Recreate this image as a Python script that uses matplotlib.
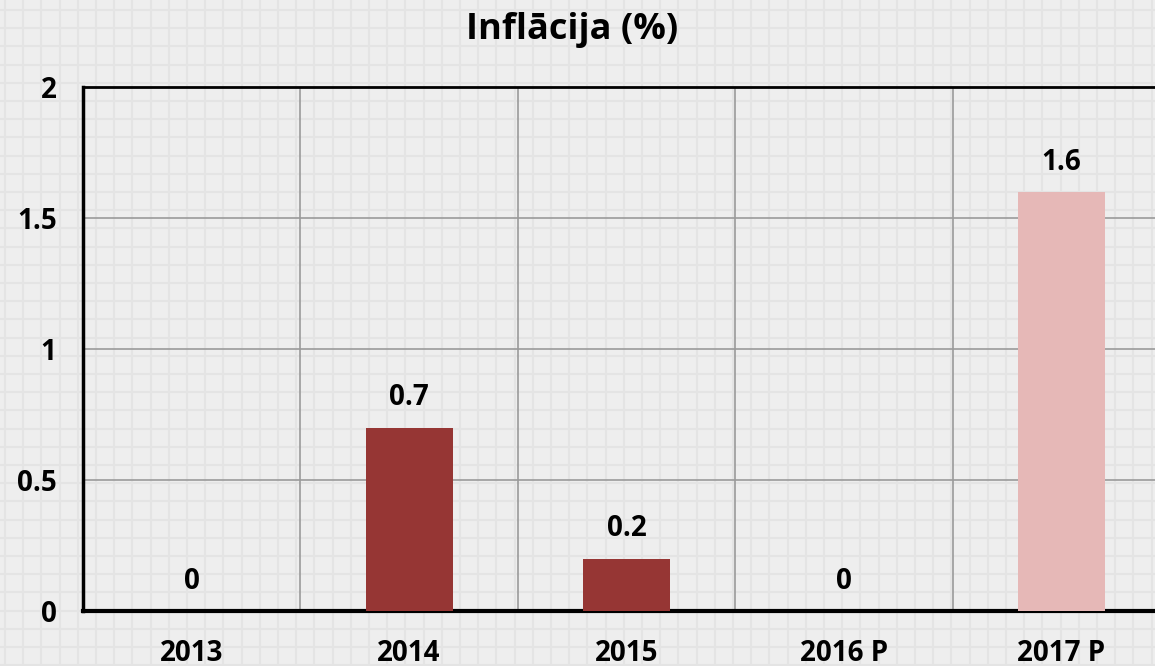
import numpy as np
import matplotlib.pyplot as plt

years = ['2013', '2014', '2015', '2016 P', '2017 P']
inflation = [0, 0.7, 0.2, 0, 1.6]
is_forecast = [False, False, False, True, True]

dark_red = '#963634'
pink = '#e6b8b7'

plt.rcParams['font.family'] = ['Open Sans', 'DejaVu Sans']
plt.rcParams['font.weight'] = 'bold'

fig = plt.figure(figsize=(11.55, 6.66), dpi=100)
fig.patch.set_facecolor('#eeeeee')

# graph paper background
bg = fig.add_axes([0, 0, 1, 1], zorder=-1)
bg.set_xlim(0, 1155)
bg.set_ylim(666, 0)
bg.axis('off')
for x in np.arange(5, 1155, 18.2):
    bg.axvline(x, color='#e4e4e4', lw=1.5)
for y in np.arange(10, 666, 18.2):
    bg.axhline(y, color='#e4e4e4', lw=1.5)

ax = fig.add_axes([83 / 1155, 1 - 611 / 666, (1170 - 83) / 1155, (611 - 87) / 666])
ax.set_facecolor('none')

pos = np.arange(len(years))
colors = [pink if f else dark_red for f in is_forecast]
bars = ax.bar(pos, inflation, width=0.4, color=colors, zorder=3)

for p, v in zip(pos, inflation):
    ax.annotate('{:g}'.format(v), (p, v), xytext=(0, 11), textcoords='offset points',
                ha='center', va='bottom', fontsize=20, fontweight='bold')

ax.set_xlim(-0.5, len(years) - 0.5)
ax.set_ylim(0, 2)
ax.set_yticks([0, 0.5, 1, 1.5, 2])
ax.set_yticklabels(['0', '0.5', '1', '1.5', '2'])
ax.set_xticks(pos)
ax.set_xticklabels(years)
ax.tick_params(length=0, labelsize=20)
ax.tick_params(axis='y', pad=19)
ax.tick_params(axis='x', pad=20)

ax.set_xticks(pos[:-1] + 0.5, minor=True)
ax.grid(axis='y', color='#9a9a9a', lw=1.2, zorder=1)
ax.grid(axis='x', which='minor', color='#9a9a9a', lw=1.2, zorder=1)
ax.tick_params(which='minor', length=0)

for side in ['left', 'top', 'bottom']:
    ax.spines[side].set_color('black')
ax.spines['left'].set_linewidth(2.5)
ax.spines['bottom'].set_linewidth(3)
ax.spines['top'].set_linewidth(2)
ax.spines['right'].set_visible(False)

fig.text(572 / 1155, 1 - 30 / 666, 'Inflācija (%)', ha='center', va='center',
         fontsize=26, fontweight='bold')

fig.savefig('out.png', dpi=100, facecolor=fig.get_facecolor())
